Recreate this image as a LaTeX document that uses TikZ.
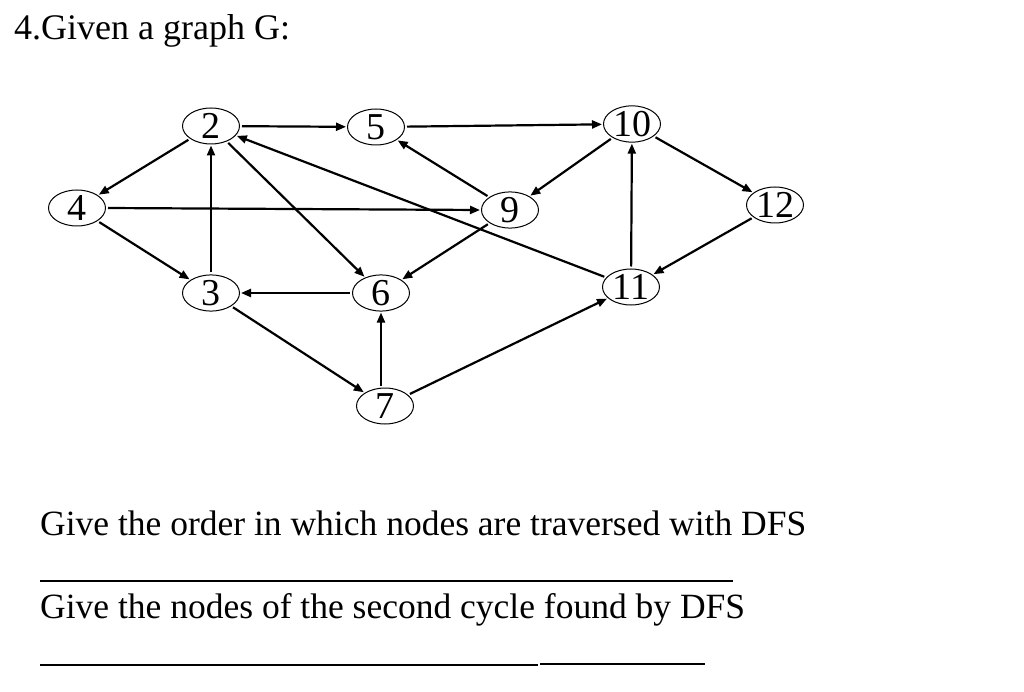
\documentclass[tikz,border=0pt]{standalone}
\usepackage{fontspec}
\setmainfont{Liberation Serif}
\usetikzlibrary{shapes.geometric,arrows.meta}
\begin{document}
\begin{tikzpicture}[x=1pt,y=-1pt,
  v/.style={draw,ellipse,line width=1pt,minimum width=57pt,minimum height=36pt,inner sep=0pt,font=\fontsize{38}{38}\selectfont},
  e/.style={-{Triangle[length=10pt,width=8pt]},line width=2.2pt,shorten >=1pt,shorten <=2pt},
  txt/.style={anchor=base west,inner sep=0pt,font=\fontsize{35.5}{40}\selectfont}]
\useasboundingbox (0,0) rectangle (1024,692);
\node[txt,font=\fontsize{36}{40}\selectfont] (t) at (14,40) {4.Given a graph G:};
\node[v] (n2) at (211,126) {2};
\node[v] (n5) at (376,127) {5};
\node[v] (n10) at (632,124) {10};
\node[v] (n4) at (77,208) {4};
\node[v] (n9) at (510,210) {9};
\node[v] (n12) at (775,205) {12};
\node[v] (n3) at (211,293) {3};
\node[v] (n6) at (381,293) {6};
\node[v] (n11) at (631,287) {11};
\node[v] (n7) at (385,406) {7};
\draw[e] (n2) -- (n5);
\draw[e] (n5) -- (n10);
\draw[e] (n2) -- (n4);
\draw[e] (n4.east) -- (n9.west);
\draw[e] (n4) -- (n3);
\draw[e] (n3) -- (n2);
\draw[e] (n2) -- (n6);
\draw[e] (n9) -- (n5);
\draw[e] (n10) -- (n9);
\draw[e] (n10) -- (n12);
\draw[e] (n12) -- (n11);
\draw[e] (n11) -- (n10);
\draw[e] (n11) -- (n2);
\draw[e] (n9) -- (n6);
\draw[e] (n6) -- (n3);
\draw[e] (n3) -- (n7);
\draw[e] (n7.north -| n6) -- (n6);
\draw[e] (n7) -- (n11);
\node[txt] (q1) at (40,535) {Give the order in which nodes are traversed with DFS};
\node[txt] (q2) at (40,618) {Give the nodes of the second cycle found by DFS};
\draw[line width=1.2pt] (40,581) -- (733,581);
\draw[line width=1.2pt] (40,665) -- (538,665);
\draw[line width=1.2pt] (540,664) -- (705,664);
\end{tikzpicture}
\end{document}
